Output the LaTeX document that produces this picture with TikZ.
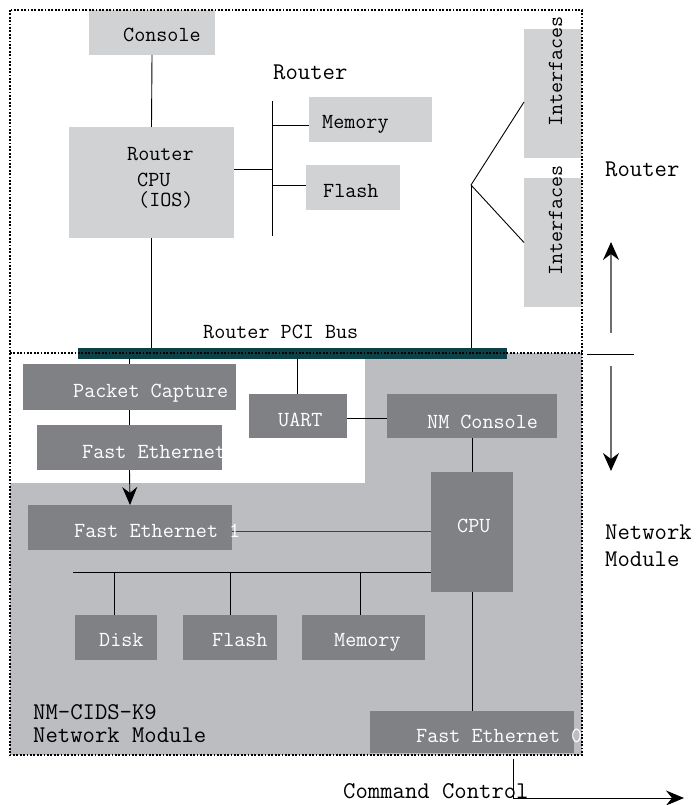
\documentclass[tikz,border=0pt]{standalone}
\usetikzlibrary{arrows.meta}
\definecolor{lgray}{HTML}{D1D2D4}
\definecolor{mgray}{HTML}{BCBDC0}
\definecolor{dgray}{HTML}{808184}
\definecolor{busteal}{HTML}{0B4147}
\definecolor{agray}{HTML}{6D6E70}
\tikzset{
  rbox/.style={rectangle, fill=lgray, inner sep=0pt, outer sep=0pt},
  mbox/.style={rectangle, fill=dgray, inner sep=0pt, outer sep=0pt},
  lbl/.style={inner sep=0pt, anchor=base west, font=\ttfamily\fontsize{21.5}{24}\selectfont},
  biglbl/.style={inner sep=0pt, anchor=base west, font=\ttfamily\fontsize{24}{27}\selectfont},
  wlbl/.style={lbl, text=white},
  conn/.style={line width=0.9pt, black},
  dotline/.style={line width=2pt, dash pattern=on 1.8pt off 1.6pt},
  blacktip/.style={-{Stealth[length=18pt,width=15pt,inset=6pt]}},
  graytip/.style={line width=2pt, agray, -{Stealth[length=18pt,width=16pt,inset=6pt,fill=black,color=black]}}
}
\begin{document}
\begin{tikzpicture}[x=1pt,y=-1pt]
\useasboundingbox (0,0) rectangle (696,805);
% backgrounds
\fill[mgray] (10,353) rectangle (582,755);
\fill[white] (10,353) rectangle (365,483);
% router boxes
\node[rbox, minimum width=126pt, minimum height=45pt] (console) at (152,32.5) {};
\node[rbox, minimum width=165pt, minimum height=111pt] (rcpu) at (151.5,182.5) {};
\node[rbox, minimum width=123pt, minimum height=45pt] (rmem) at (370.5,119.5) {};
\node[rbox, minimum width=94pt, minimum height=45pt] (rflash) at (353,187.5) {};
\node[rbox, minimum width=58pt, minimum height=129pt] (if1) at (553,93.5) {};
\node[rbox, minimum width=58pt, minimum height=129pt] (if2) at (553,242.5) {};
% module boxes
\node[mbox, minimum width=213pt, minimum height=46pt] (pcap) at (129.5,387) {};
\node[mbox, minimum width=185pt, minimum height=45pt] (fe) at (129.5,447.5) {};
\node[mbox, minimum width=98pt, minimum height=44pt] (uart) at (298,416) {};
\node[mbox, minimum width=170pt, minimum height=44pt] (nmc) at (472,416) {};
\node[mbox, minimum width=82pt, minimum height=120pt] (cpu) at (472,532) {};
\node[mbox, minimum width=204pt, minimum height=45pt] (fe1) at (130,527.5) {};
\node[mbox, minimum width=82pt, minimum height=45pt] (disk) at (116,637.5) {};
\node[mbox, minimum width=94pt, minimum height=45pt] (mflash) at (230,637.5) {};
\node[mbox, minimum width=123pt, minimum height=45pt] (mmem) at (363.5,637.5) {};
\node[mbox, minimum width=204pt, minimum height=42pt] (fe0) at (472,732) {};
% bus
\node[rectangle, fill=busteal, inner sep=0pt, minimum width=429pt, minimum height=10.5pt] (pcibus) at (292.5,353.3) {};
% coordinates
\coordinate (rvt) at (272,101);
\coordinate (rvb) at (272,236);
\coordinate (rvh) at (272,169);
\coordinate (ifj) at (471,185);
\coordinate (mbl) at (73,572);
\coordinate (upa) at (611,333);
\coordinate (upb) at (611,242);
\coordinate (hla) at (587,354);
\coordinate (hlb) at (634,354);
\coordinate (dna) at (611,366);
\coordinate (dnb) at (611,471);
\coordinate (cc1) at (513,759);
\coordinate (cc2) at (684,798);
% router connectors
\draw[conn] (console.south) -- (rcpu.north);
\draw[conn] (rcpu.south) -- (rcpu.south |- pcibus.north);
\draw[conn] (rvt) -- (rvb);
\draw[conn] (rcpu.east |- rvh) -- (rvh);
\draw[conn] (rvt |- 0,125) -- (rmem.west |- 0,125);
\draw[conn] (rvt |- 0,185) -- (rflash.west |- 0,185);
\draw[conn] (ifj |- pcibus.north) -- (ifj);
\draw[conn] (ifj) -- ([yshift=-8.5pt]if1.west);
\draw[conn] (ifj) -- (if2.west);
% module connectors
\draw[conn] (pcap.north |- pcibus.south) -- (pcap.north);
\draw[conn] (pcap.south) -- (fe.north);
\draw[conn, blacktip] (fe.south) -- (fe1.north);
\draw[conn] (uart.north -| 297,0) -- (297,0 |- pcibus.south);
\draw[conn] (uart.east |- 0,418) -- (nmc.west |- 0,418);
\draw[conn] (nmc.south) -- (cpu.north);
\draw[conn, black!75] (fe1.east |- 0,531) -- (cpu.west |- 0,531);
\draw[conn] (mbl) -- (mbl -| cpu.west);
\draw[conn] (mbl -| 114,0) -- (114,0 |- disk.north);
\draw[conn] (mflash.north |- mbl) -- (mflash.north);
\draw[conn] (mbl -| 360,0) -- (360,0 |- mmem.north);
\draw[conn] (cpu.south) -- (fe0.north);
% right side arrows
\draw[graytip] (upa) -- (upb);
\draw[conn] (hla) -- (hlb);
\draw[graytip] (dna) -- (dnb);
\draw[conn, blacktip] (cc1) |- (cc2);
% dotted borders
\draw[dotline] (10,10) rectangle (582,755);
\draw[dotline] (10,353) -- (582,353);
% labels
\node[lbl] (tconsole) at (123,42) {Console};
\node[biglbl] (trouter) at (273,80) {Router};
\node[lbl] (trcpu1) at (127,161) {Router};
\node[lbl] (trcpu2) at (137,186) {CPU};
\node[lbl] (trcpu3) at (138,207) {(IOS)};
\node[lbl] (trmem) at (322,129) {Memory};
\node[lbl] (trflash) at (323,197) {Flash};
\node[lbl, rotate=90] (tif1) at (562,127) {Interfaces};
\node[lbl, rotate=90] (tif2) at (562,276) {Interfaces};
\node[biglbl] (trouter2) at (605,176) {Router};
\node[lbl] (tbus) at (203,338) {Router PCI Bus};
\node[wlbl] (tpcap) at (73,397) {Packet Capture};
\node[wlbl] (tfe) at (82,458) {Fast Ethernet};
\node[wlbl] (tuart) at (278,426) {UART};
\node[wlbl] (tnmc) at (427,428) {NM Console};
\node[wlbl] (tcpu) at (457,532) {CPU};
\node[wlbl] (tfe1) at (74,537) {Fast Ethernet 1};
\node[wlbl] (tdisk) at (99,646) {Disk};
\node[wlbl] (tmflash) at (212,646) {Flash};
\node[wlbl] (tmmem) at (334,646) {Memory};
\node[wlbl] (tfe0) at (416,742) {Fast Ethernet 0};
\node[biglbl] (tnm1) at (33,719) {NM-CIDS-K9};
\node[biglbl] (tnm2) at (33,742) {Network Module};
\node[biglbl] (tnet1) at (605,539) {Network};
\node[biglbl] (tnet2) at (605,566) {Module};
\node[biglbl] (tcc) at (343,798) {Command Control};
\end{tikzpicture}
\end{document}
